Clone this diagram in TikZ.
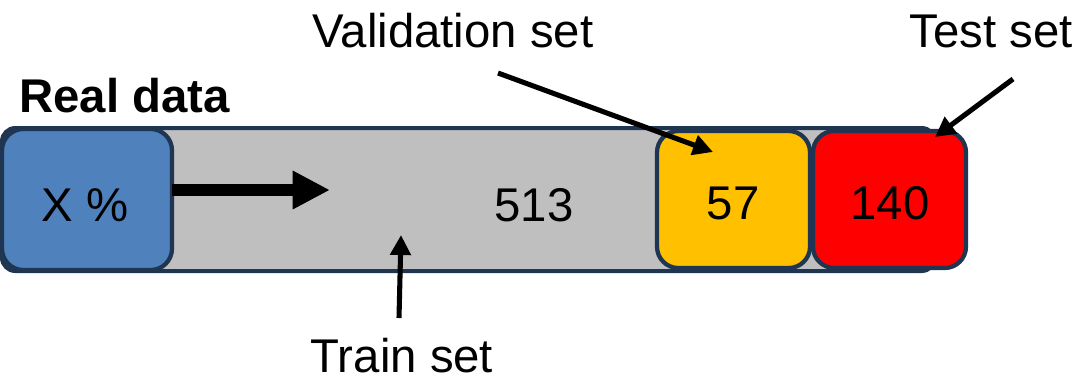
\documentclass[tikz,border=0pt]{standalone}
\usepackage{fontspec}
\setmainfont{Liberation Sans}
\usetikzlibrary{arrows.meta}
\definecolor{edge}{HTML}{1F3552}
\definecolor{bluefill}{HTML}{4F81BD}
\definecolor{grayfill}{HTML}{BFBFBF}
\definecolor{amber}{HTML}{FFC000}
\tikzset{
  part/.style={draw=edge, line width=3.2pt, rounded corners=16pt, inner sep=0pt},
  label/.style={font=\fontsize{35.5}{40}\selectfont, inner sep=0pt},
  pointer/.style={line width=3.8pt, -{Triangle[length=15pt,width=15pt]}},
}
\begin{document}
\begin{tikzpicture}[x=0.75pt,y=-0.75pt]
\useasboundingbox (0,0) rectangle (1091,380);
% whole data bar
\draw[draw=edge, line width=3pt, fill=grayfill, rounded corners=10pt] (2,128) rectangle (935,271);
\node (train) at (534,205) [label] {513};
% coloured parts
\draw[part, fill=bluefill] (2,129) rectangle (172,270);
\node (real) at (85,205) [label] {X \%};
\draw[part, fill=amber] (657,131) rectangle (810,268);
\node (val) at (733,203) [label] {57};
\draw[part, fill=red] (813,131) rectangle (966,268);
\node (test) at (890,203) [label] {140};
% captions
\node (realcap) [label, anchor=base west, font=\bfseries\fontsize{35.5}{40}\selectfont] at (19,112) {Real data};
\node (valcap) [label, anchor=base] at (453,47) {Validation set};
\node (testcap) [label, anchor=base] at (991,47) {Test set};
\node (traincap) [label, anchor=base] at (402,372) {Train set};
% pointers
\coordinate (growtip) at (330,190);
\coordinate (valtip) at (713,152);
\coordinate (testtip) at (935,137);
\coordinate (traintip) at (401,235);
\coordinate (valtail) at (498,73);
\coordinate (testtail) at (1013,79);
\coordinate (trailtail) at (399,318);
\draw[line width=8.5pt, -{Triangle[length=28pt,width=27pt]}] (172,190) -- (growtip);
\draw[pointer] (valtail) -- (valtip);
\draw[pointer] (testtail) -- (testtip);
\draw[pointer] (trailtail) -- (traintip);
\end{tikzpicture}
\end{document}
